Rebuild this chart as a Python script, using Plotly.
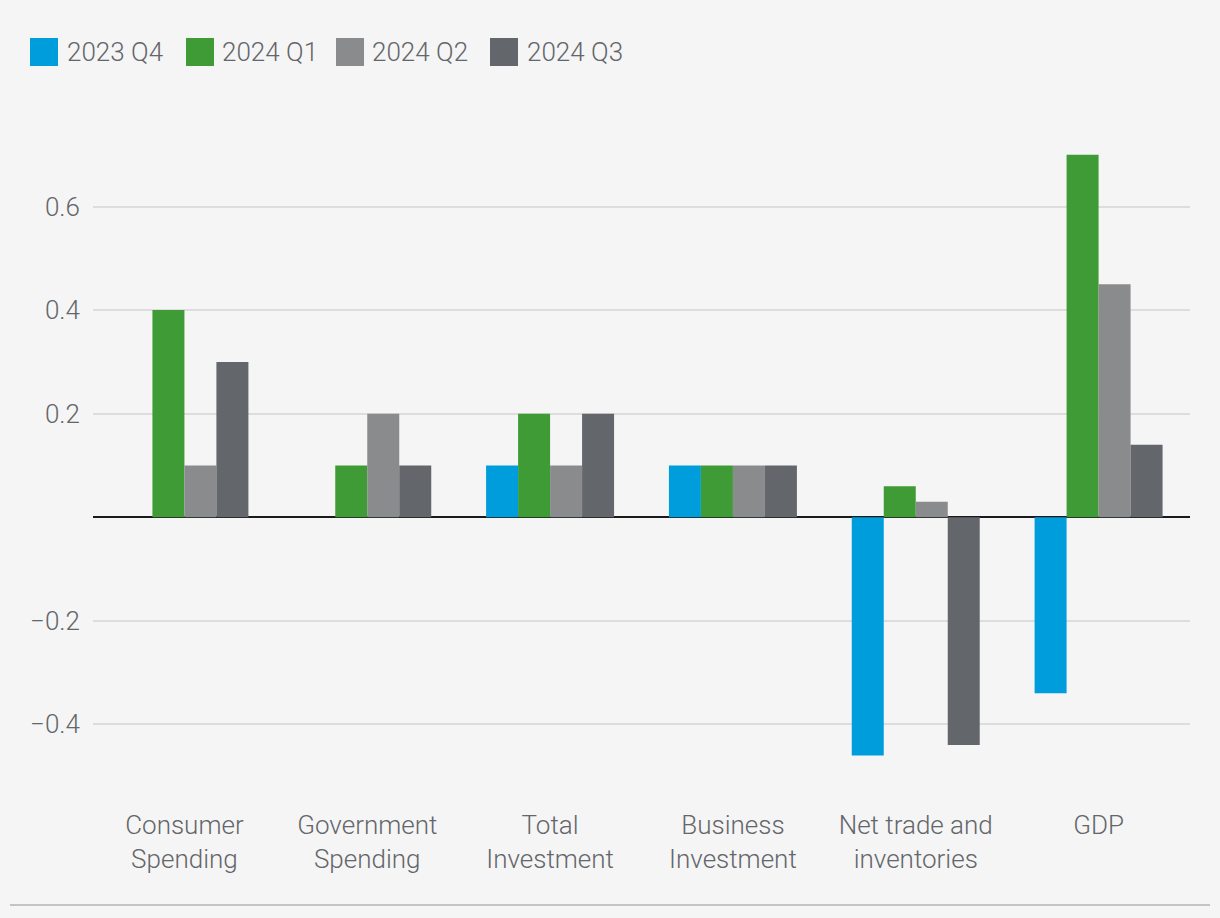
import plotly.graph_objects as go

categories = ["Consumer<br>Spending", "Government<br>Spending", "Total<br>Investment",
              "Business<br>Investment", "Net trade and<br>inventories", "GDP"]
series_names = ["2023 Q4", "2024 Q1", "2024 Q2", "2024 Q3"]
q4_2023 = [0.0, 0.0, 0.1, 0.1, -0.46, -0.34]
q1_2024 = [0.4, 0.1, 0.2, 0.1, 0.06, 0.7]
q2_2024 = [0.1, 0.2, 0.1, 0.1, 0.03, 0.45]
q3_2024 = [0.3, 0.1, 0.2, 0.1, -0.44, 0.14]
series_values = [q4_2023, q1_2024, q2_2024, q3_2024]
colors = ["#009ddc", "#3e9b35", "#898b8d", "#63666a"]
y_tickvals = [-0.4, -0.2, 0.2, 0.4, 0.6]
y_ticktext = ["\u22120.4", "\u22120.2", "0.2", "0.4", "0.6"]

W, H = 1220, 918
ML, MR, MT, MB = 93, 30, 103, 116
PW, PH = W - ML - MR, H - MT - MB
TXT = "#63666a"
FONT = "Roboto"
WEIGHT = 300


def px_x(px):
    return (px - ML) / PW


def px_y(py):
    return (H - MB - py) / PH


fig = go.Figure()
for name, vals, col in zip(series_names, series_values, colors):
    fig.add_trace(go.Bar(x=categories, y=vals, name=name, marker=dict(color=col, line=dict(width=0)),
                         showlegend=False))

shapes = []
annotations = []
legend_sq_x = [30, 186, 336, 490]
legend_txt_x = [65, 220, 370, 525]
for name, col, sx, tx in zip(series_names, colors, legend_sq_x, legend_txt_x):
    shapes.append(dict(type="rect", xref="paper", yref="paper",
                       x0=px_x(sx), x1=px_x(sx + 28), y0=px_y(66), y1=px_y(38),
                       fillcolor=col, line=dict(width=0)))
    annotations.append(dict(text=name, xref="paper", yref="paper", x=px_x(tx), y=px_y(52),
                            xanchor="left", yanchor="middle", showarrow=False,
                            font=dict(family=FONT, size=26, color=TXT, weight=WEIGHT)))

shapes.append(dict(type="line", xref="paper", yref="paper", x0=px_x(10), x1=px_x(1210),
                   y0=px_y(905), y1=px_y(905), line=dict(color="#c4c4c4", width=2)))

fig.update_layout(
    width=W, height=H,
    margin=dict(l=ML, r=MR, t=MT, b=MB, pad=0),
    paper_bgcolor="#f5f5f5", plot_bgcolor="#f5f5f5",
    barmode="group", bargap=0.3, bargroupgap=0,
    font=dict(family=FONT, size=26, color=TXT, weight=WEIGHT),
    shapes=shapes, annotations=annotations,
    showlegend=False,
)
fig.update_xaxes(showgrid=False, showline=False, ticks="", ticklabelstandoff=5,
                 tickfont=dict(family=FONT, size=26, color=TXT, weight=WEIGHT), fixedrange=True)
fig.update_yaxes(range=[-0.55, 0.8], tickvals=y_tickvals, ticktext=y_ticktext,
                 showgrid=True, gridcolor="#dddddd", gridwidth=2,
                 zeroline=True, zerolinecolor="#1a1a1a", zerolinewidth=2,
                 showline=False, ticks="", ticklabelstandoff=12,
                 tickfont=dict(family=FONT, size=26, color=TXT, weight=WEIGHT), fixedrange=True)

fig.write_html("out.html", config={"displayModeBar": False},
               post_script="document.body.style.margin='0';document.body.style.background='#f5f5f5';")
